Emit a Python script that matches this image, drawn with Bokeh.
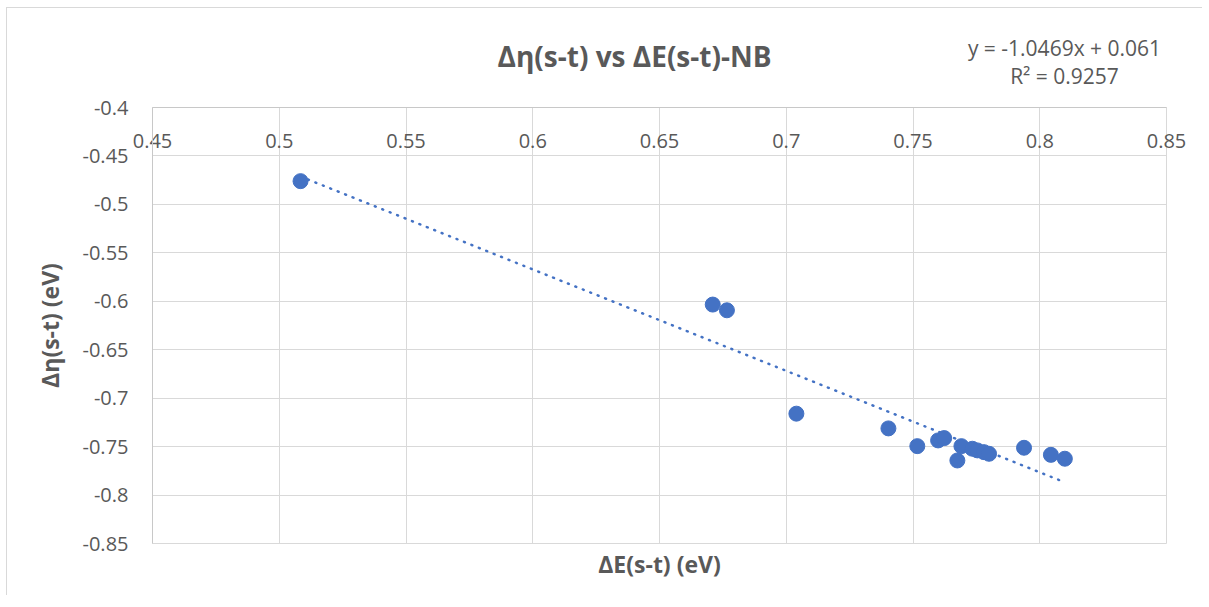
from bokeh.plotting import figure
from bokeh.layouts import column
from bokeh.models import (LinearAxis, FixedTicker, PrintfTickFormatter,
                          ColumnDataSource, Range1d)
from bokeh.core.properties import value
from bokeh.embed import file_html
from bokeh.resources import INLINE

# ---- data ----
delta_e = [0.5084, 0.6710, 0.6766, 0.7040, 0.7403, 0.7517, 0.7599, 0.7623,
           0.7675, 0.7691, 0.7734, 0.7754, 0.7780, 0.7800, 0.7938, 0.8044, 0.8099]
delta_eta = [-0.476, -0.6034, -0.6093, -0.716, -0.7312, -0.7495, -0.7436, -0.7412,
             -0.7643, -0.7495, -0.7522, -0.7539, -0.7557, -0.7574, -0.7512, -0.7585, -0.7625]

trend_slope = -1.0469
trend_intercept = 0.061
trend_r2 = 0.9257

x_ticks = [0.45, 0.5, 0.55, 0.6, 0.65, 0.7, 0.75, 0.8, 0.85]
y_ticks = [-0.85, -0.8, -0.75, -0.7, -0.65, -0.6, -0.55, -0.5, -0.45, -0.4]

title_text = "Δη(s-t) vs ΔE(s-t)-NB"
x_title = "ΔE(s-t) (eV)"
y_title = "Δη(s-t) (eV)"
eq_lines = [f"y = {trend_slope}x + {trend_intercept}", f"R² = {trend_r2}"]

FONT = "Open Sans"
TXT = "#595959"
GRID = "#d9d9d9"
AXIS = "#c8c8c8"
BLUE = "#4472C4"

W = 1195
BL, BR = 145, 36          # left / right borders shared by both canvases
HEAD_H = 82

# ---- header strip: title and trendline equation (page-pixel coordinates) ----
top = figure(width=W, height=HEAD_H,
             x_range=Range1d(8 + BL - 1, 8 + W - BR - 1),
             y_range=Range1d(8 + HEAD_H, 8),
             x_axis_location=None, y_axis_location=None,
             output_backend="svg", toolbar_location=None,
             min_border_left=BL, min_border_right=BR,
             min_border_top=0, min_border_bottom=0)
top.outline_line_color = None
top.grid.visible = False
top.text(x=[634], y=[55], text=[title_text], text_align="center",
         text_baseline="middle", text_font=value(FONT), text_font_size=value("28px"),
         text_font_style="bold", text_color=TXT)
top.text(x=[1064, 1064], y=[47, 75], text=eq_lines, text_align="center",
         text_baseline="middle", text_font=value(FONT), text_font_size=value("21px"),
         text_color=TXT)

# ---- main chart ----
p = figure(width=W, height=505,
           x_range=Range1d(0.45, 0.85), y_range=Range1d(-0.85, -0.4),
           x_axis_location="above",
           output_backend="svg", toolbar_location=None,
           min_border_left=BL, min_border_right=BR,
           min_border_top=17, min_border_bottom=52)
p.outline_line_color = GRID

xt = FixedTicker(ticks=x_ticks)
yt = FixedTicker(ticks=y_ticks)

xa = p.xaxis[0]
xa.ticker = xt
xa.formatter = PrintfTickFormatter(format="%g")
xa.major_label_standoff = -40
xa.major_tick_out = 0
xa.major_tick_in = 0
xa.minor_tick_out = 0
xa.minor_tick_in = 0
xa.axis_line_color = AXIS
xa.major_label_text_font = FONT
xa.major_label_text_font_size = "20px"
xa.major_label_text_color = TXT

ya = p.yaxis[0]
ya.ticker = yt
ya.formatter = PrintfTickFormatter(format="%g")
ya.major_label_standoff = 24
ya.major_tick_out = 0
ya.major_tick_in = 0
ya.minor_tick_out = 0
ya.minor_tick_in = 0
ya.axis_line_color = AXIS
ya.major_label_text_font = FONT
ya.major_label_text_font_size = "20px"
ya.major_label_text_color = TXT
ya.axis_label = y_title
ya.axis_label_text_font = FONT
ya.axis_label_text_font_size = "23px"
ya.axis_label_text_font_style = "bold"
ya.axis_label_text_color = TXT
ya.axis_label_standoff = 14

xb = LinearAxis(ticker=FixedTicker(ticks=[]), axis_line_color=None,
                major_tick_line_color=None, minor_tick_line_color=None,
                major_label_text_alpha=0)
xb.axis_label = x_title
xb.axis_label_text_font = FONT
xb.axis_label_text_font_size = "23px"
xb.axis_label_text_font_style = "bold"
xb.axis_label_text_color = TXT
xb.axis_label_standoff = 4
p.add_layout(xb, "below")

p.xgrid.ticker = xt
p.ygrid.ticker = yt
p.xgrid.grid_line_color = GRID
p.ygrid.grid_line_color = GRID

# linear trendline (Excel equation shown in header)
tx = [min(delta_e), max(delta_e)]
ty = [trend_slope * v + trend_intercept for v in tx]
p.line(tx, ty, line_color=BLUE, line_width=2.5, line_dash="1 7", line_cap="round")

src = ColumnDataSource(dict(x=delta_e, y=delta_eta))
p.scatter("x", "y", source=src, size=15, fill_color=BLUE, line_color=BLUE)

layout = column(top, p, spacing=0)
layout.styles = {"margin-left": "6px", "margin-top": "7px",
                 "border-left": "1px solid #d9d9d9", "border-top": "1px solid #d9d9d9"}

open("out.html", "w").write(file_html(layout, INLINE))
